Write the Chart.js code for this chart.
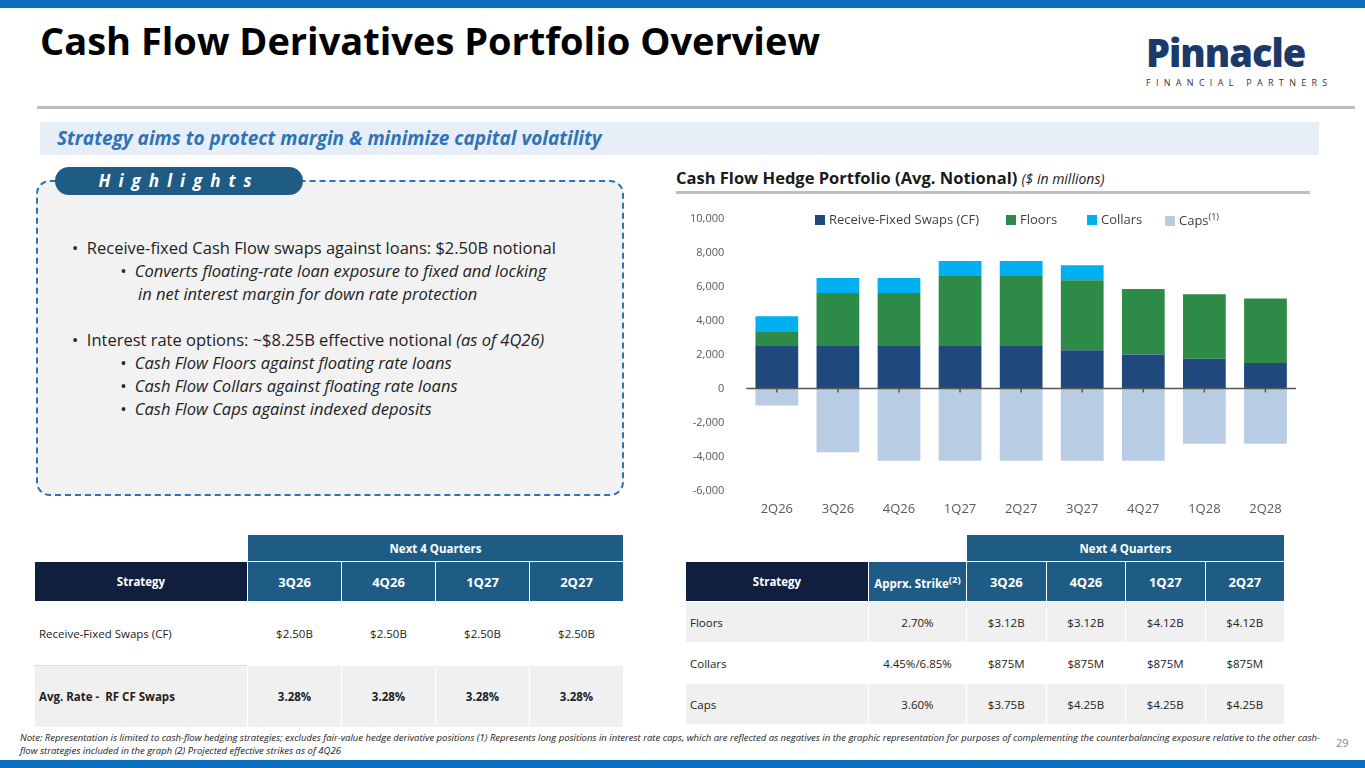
<!DOCTYPE html>
<html><head><meta charset="utf-8">
<script src="https://cdn.jsdelivr.net/npm/chart.js@4.4.1/dist/chart.umd.min.js"></script>
<style>
body{margin:0;width:1365px;height:768px;position:relative;overflow:hidden;font-family:"Open Sans","Noto Sans",sans-serif;background:#fff}
.bar{position:absolute;left:0;width:1365px;height:8px;background:#0a6ebd}
h1{position:absolute;left:40px;top:14px;margin:0;font-size:38px;font-weight:700;color:#000}
.rule{position:absolute;left:37px;top:106px;width:1318px;height:3px;background:#bfbfbf}
.logo{position:absolute;left:1146px;top:26px;font-size:38px;font-weight:800;color:#1b3a6b;letter-spacing:-1px}
.logo2{position:absolute;left:1146px;top:76px;font-size:9px;letter-spacing:5.3px;color:#333}
.strat{position:absolute;left:40px;top:122px;width:1279px;height:33px;background:#e8eef8;color:#2e74b5;font-weight:700;font-style:italic;font-size:19px;line-height:33px;padding-left:17px;box-sizing:border-box}
.hl{position:absolute;left:36px;top:180px;width:588px;height:316px;border:2px dashed #2e74b5;border-radius:14px;background:#f2f2f2;box-sizing:border-box}
.hlt{position:absolute;left:55px;top:167px;width:248px;height:28px;background:#1f5c85;border-radius:14px;color:#fff;font-style:italic;font-weight:700;font-size:17px;letter-spacing:8px;text-align:center;line-height:28px}
.hltxt{position:absolute;left:72px;top:236px;font-size:16.5px;color:#222;line-height:23px}
.sub{padding-left:48px;font-style:italic}
.sub div{padding-left:18px;text-indent:-18px}
.ct{position:absolute;left:676px;top:166px;font-size:16.5px;font-weight:700;color:#1a1a1a}
.ct i{font-weight:400;font-size:14px}
.crule{position:absolute;left:676px;top:191px;width:634px;height:3px;background:#bfbfbf}
#cw{position:absolute;left:676px;top:198px;width:630px;height:322px}
.lg{position:absolute;top:210px;font-size:13px;color:#404040}
.lg span{display:inline-block;width:10px;height:10px;margin-right:4px;vertical-align:-1px}
table{position:absolute;border-collapse:collapse;font-size:11.5px;color:#222;font-family:"Open Sans",sans-serif}
td{text-align:center;border:1px solid #fff}
.hd td{color:#fff;font-weight:700}
.note{position:absolute;left:20px;top:731px;width:1300px;font-size:9.5px;font-style:italic;color:#222;line-height:13px}
.pg{position:absolute;left:1336px;top:735px;font-size:11px;color:#888}
</style></head><body>
<div class="bar" style="top:0"></div><div class="bar" style="top:760px"></div>
<h1>Cash Flow Derivatives Portfolio Overview</h1>
<div class="logo">Pinnacle</div><div class="logo2">FINANCIAL PARTNERS</div>
<div class="rule"></div>
<div class="strat">Strategy aims to protect margin &amp; minimize capital volatility</div>
<div class="hl"></div><div class="hlt">Highlights</div>
<div class="hltxt">
<div>• &nbsp;Receive-fixed Cash Flow swaps against loans: $2.50B notional</div>
<div class="sub"><div>• &nbsp;Converts floating-rate loan exposure to fixed and locking<br>in net interest margin for down rate protection</div></div><br>
<div>• &nbsp;Interest rate options: ~$8.25B effective notional <i>(as of 4Q26)</i></div>
<div class="sub"><div>• &nbsp;Cash Flow Floors against floating rate loans</div><div>• &nbsp;Cash Flow Collars against floating rate loans</div><div>• &nbsp;Cash Flow Caps against indexed deposits</div></div>
</div>
<div class="ct">Cash Flow Hedge Portfolio (Avg. Notional) <i>($ in millions)</i></div>
<div class="crule"></div>
<div id="cw"><canvas id="grafico"></canvas></div>
<div class="lg" style="left:815px"><span style="background:#1f497d"></span>Receive-Fixed Swaps (CF)</div>
<div class="lg" style="left:1006px"><span style="background:#2e8b47"></span>Floors</div>
<div class="lg" style="left:1087px"><span style="background:#00b0f0"></span>Collars</div>
<div class="lg" style="left:1165px"><span style="background:#b8cce4"></span>Caps<sup style="font-size:9px">(1)</sup></div>

<table style="left:34px;top:534px;width:590px">
<tr style="height:27px"><td style="border:none"></td><td colspan="4" style="background:#1f5c85;color:#fff;font-weight:700">Next 4 Quarters</td></tr>
<tr class="hd" style="height:40px;background:#1f5c85"><td style="background:#0f1f3d;width:210px">Strategy</td><td style="font-size:13px">3Q26</td><td style="font-size:13px">4Q26</td><td style="font-size:13px">1Q27</td><td style="font-size:13px">2Q27</td></tr>
<tr style="height:64px;background:#fff"><td style="text-align:left;padding-left:4px;border-bottom:1px solid #ddd">Receive-Fixed Swaps (CF)</td><td>$2.50B</td><td>$2.50B</td><td>$2.50B</td><td>$2.50B</td></tr>
<tr style="height:62px;background:#f0f0f0;font-weight:700"><td style="text-align:left;padding-left:4px">Avg. Rate -&nbsp; RF CF Swaps</td><td>3.28%</td><td>3.28%</td><td>3.28%</td><td>3.28%</td></tr>
</table>

<table style="left:685px;top:534px;width:600px">
<tr style="height:27px"><td colspan="2" style="border:none"></td><td colspan="4" style="background:#1f5c85;color:#fff;font-weight:700">Next 4 Quarters</td></tr>
<tr class="hd" style="height:40px;background:#1f5c85"><td style="background:#0f1f3d;width:180px">Strategy</td><td style="width:95px">Apprx. Strike<sup>(2)</sup></td><td style="font-size:13px">3Q26</td><td style="font-size:13px">4Q26</td><td style="font-size:13px">1Q27</td><td style="font-size:13px">2Q27</td></tr>
<tr style="height:41px;background:#f0f0f0"><td style="text-align:left;padding-left:4px">Floors</td><td>2.70%</td><td>$3.12B</td><td>$3.12B</td><td>$4.12B</td><td>$4.12B</td></tr>
<tr style="height:41px;background:#fff"><td style="text-align:left;padding-left:4px">Collars</td><td>4.45%/6.85%</td><td>$875M</td><td>$875M</td><td>$875M</td><td>$875M</td></tr>
<tr style="height:41px;background:#f0f0f0"><td style="text-align:left;padding-left:4px">Caps</td><td>3.60%</td><td>$3.75B</td><td>$4.25B</td><td>$4.25B</td><td>$4.25B</td></tr>
</table>

<div class="note">Note: Representation is limited to cash-flow hedging strategies; excludes fair-value hedge derivative positions (1) Represents long positions in interest rate caps, which are reflected as negatives in the graphic representation for purposes of complementing the counterbalancing exposure relative to the other cash-flow strategies included in the graph (2) Projected effective strikes as of 4Q26</div>
<div class="pg">29</div>

<script>
// dados do gráfico
const trimestres = ['2Q26', '3Q26', '4Q26', '1Q27', '2Q27', '3Q27', '4Q27', '1Q28', '2Q28'];
const swaps = [2500, 2500, 2500, 2500, 2500, 2250, 2000, 1750, 1500];
const floors = [875, 3125, 3125, 4125, 4125, 4125, 3850, 3800, 3800];
const collars = [875, 875, 875, 875, 875, 875, 0, 0, 0];
const caps = [-1000, -3750, -4250, -4250, -4250, -4250, -4250, -3250, -3250];

const ctx = document.getElementById('grafico').getContext('2d');

// linha do zero
const linhaZero = {
    id: 'linhaZero',
    afterDatasetsDraw(chart) {
        const y = chart.scales.y.getPixelForValue(0);
        const a = chart.chartArea;
        const c = chart.ctx;
        c.save();
        c.strokeStyle = '#555';
        c.lineWidth = 1.5;
        c.beginPath(); c.moveTo(a.left, y); c.lineTo(a.right, y); c.stroke();
        chart.scales.x.ticks.forEach((t, i) => {
            const x = chart.scales.x.getPixelForValue(i);
            c.beginPath(); c.moveTo(x, y); c.lineTo(x, y + 4); c.stroke();
        });
        c.restore();
    }
};

new Chart(ctx, {
    type: 'bar',
    data: {
        labels: trimestres,
        datasets: [
            { label: 'Receive-Fixed Swaps (CF)', data: swaps, backgroundColor: '#1f497d' },
            { label: 'Floors', data: floors, backgroundColor: '#2e8b47' },
            { label: 'Collars', data: collars, backgroundColor: '#00b0f0' },
            { label: 'Caps', data: caps, backgroundColor: '#b8cce4' }
        ]
    },
    options: {
        responsive: true,
        maintainAspectRatio: false,
        animation: false,
        datasets: { bar: { categoryPercentage: 1, barPercentage: 0.7 } },
        layout: { padding: { top: 9, right: 10 } },
        scales: {
            x: {
                stacked: true,
                grid: { display: false },
                border: { display: false },
                ticks: { color: '#595959', font: { size: 13, family: 'Open Sans' } }
            },
            y: {
                stacked: true,
                min: -6000,
                max: 10000,
                grid: { display: false },
                border: { display: false },
                ticks: { stepSize: 2000, color: '#595959', padding: 14, font: { size: 11, family: 'Open Sans' } }
            }
        },
        plugins: {
            legend: { display: false },
            tooltip: { enabled: false }
        }
    },
    plugins: [linhaZero]
});
</script>
</body></html>
